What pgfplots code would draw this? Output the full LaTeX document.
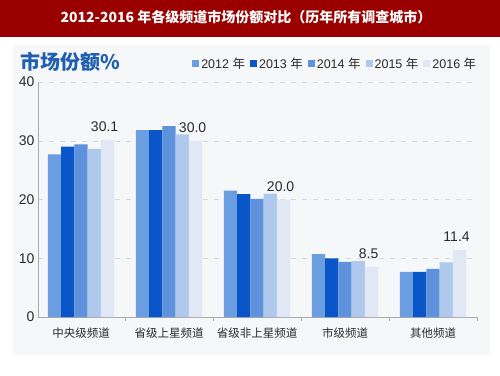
\documentclass[border=0pt]{standalone}
\usepackage{fontspec}
\setmainfont{Liberation Sans}
\newfontfamily\cjk{Noto Sans CJK SC}
\usepackage{pgfplots}
\pgfplotsset{compat=1.18}
\definecolor{c12}{HTML}{6A9EE0}
\definecolor{c13}{HTML}{0A55C8}
\definecolor{c14}{HTML}{5E92DC}
\definecolor{c15}{HTML}{AFC8EE}
\definecolor{c16}{HTML}{E2E7F5}
\definecolor{titlered}{HTML}{9A0000}
\definecolor{panel}{HTML}{F6F7F9}
\definecolor{titleblue}{HTML}{1F5FAE}
\definecolor{axisgray}{HTML}{AAAAAA}
\definecolor{gridgray}{HTML}{D6D8DC}
\definecolor{labelgray}{HTML}{2A2A2A}
\begin{document}
\begin{tikzpicture}[x=1pt,y=1pt]
\useasboundingbox (0,0) rectangle (500,375);
\fill[white] (0,0) rectangle (500,375);
\fill[titlered] (0,338) rectangle (500,375);
\node[text=white, inner sep=0, font=\cjk\fontsize{14}{16}\selectfont\bfseries] at (246,358) {2012-2016 年各级频道市场份额对比（历年所有调查城市）};
\fill[panel] (13,20) rectangle (490,330);
\node[anchor=west, inner sep=0, text=titleblue, font=\cjk\fontsize{20}{22}\selectfont\bfseries] at (20,313) {市场份额\%};
\begin{axis}[
  at={(38pt,58pt)}, anchor=south west, scale only axis,
  width=439pt, height=235pt,
  ybar=0pt, bar width=0.151,
  xmin=-0.489, xmax=4.5, ymin=0, ymax=40,
  ytick={0,10,20,30,40},
  xtick={0,1,2,3,4},
  xticklabels={{\cjk 中央级频道},{\cjk 省级上星频道},{\cjk 省级非上星频道},{\cjk 市级频道},{\cjk 其他频道}},
  extra x ticks={0.5,1.5,2.5,3.5,4.5},
  extra x tick labels={},
  extra x tick style={major tick length=4pt, tick align=outside, grid=none, tick style={draw=axisgray}},
  axis x line*=bottom, axis y line*=left,
  axis line style={draw=axisgray, -},
  major tick length=0pt,
  ymajorgrids,
  grid style={draw=gridgray, dash pattern=on 5pt off 6pt},
  /pgf/number format/assume math mode=true,
  yticklabel style={font=\fontsize{14}{16}\selectfont, text=labelgray},
  xticklabel style={font=\fontsize{11.5}{13}\selectfont, text=labelgray, yshift=-7pt},
  legend columns=5,
  legend style={at={(1.01,1.077)}, anchor=east, draw=none, fill=none,
    font=\fontsize{12.5}{14}\selectfont, text=labelgray,
    /tikz/every even column/.append style={column sep=3pt}},
  legend image code/.code={\fill[#1,draw=none] (0pt,-3.5pt) rectangle (7pt,3.5pt);},
]
\addplot[fill=c12, draw=none] coordinates {(0,27.7) (1,31.8) (2,21.5) (3,10.7) (4,7.7)};
\addplot[fill=c13, draw=none] coordinates {(0,29.0) (1,31.8) (2,20.9) (3,10.0) (4,7.7)};
\addplot[fill=c14, draw=none] coordinates {(0,29.4) (1,32.5) (2,20.1) (3,9.4) (4,8.2)};
\addplot[fill=c15, draw=none] coordinates {(0,28.6) (1,31.1) (2,21.0) (3,9.5) (4,9.3)};
\addplot[fill=c16, draw=none,
  nodes near coords={\pgfmathprintnumber[fixed,fixed zerofill,precision=1]{\pgfplotspointmeta}},
  every node near coord/.append style={font=\fontsize{14}{16}\selectfont, text=labelgray, anchor=south, inner sep=0pt, yshift=8pt, xshift=-3pt}]
  coordinates {(0,30.1) (1,30.0) (2,20.0) (3,8.5) (4,11.4)};
\legend{2012 {\cjk 年},2013 {\cjk 年},2014 {\cjk 年},2015 {\cjk 年},2016 {\cjk 年}}
\end{axis}
\end{tikzpicture}
\end{document}
